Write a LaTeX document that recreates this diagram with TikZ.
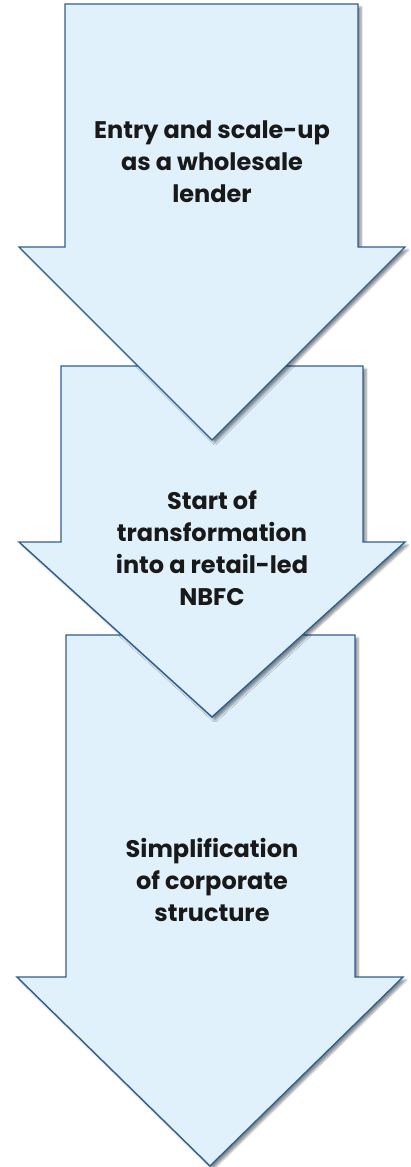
\documentclass[tikz,border=0pt]{standalone}
\usepackage{fontspec}
\setmainfont{Poppins}
\usepackage{tikz}
\usetikzlibrary{positioning,shadows.blur}
\definecolor{stagefill}{HTML}{E0F1FC}
\definecolor{stageline}{HTML}{2F5F8F}

\begin{document}
\begin{tikzpicture}[x=1pt, y=-1pt,
    stage/.style={fill=stagefill, draw=stageline, line width=1.4pt, line join=miter,
        blur shadow={shadow xshift=3pt, shadow yshift=-3pt, shadow blur steps=6, shadow opacity=45}},
    every node/.style={align=center, font=\fontsize{24}{32}\selectfont\bfseries, text=black!90}]

    \useasboundingbox (0,0) rectangle (411,1167);

    % third stage, drawn first so the others lie on top
    \draw[stage] (66,635) -- (355,635) -- (355,977) -- (403,977) -- (210,1166)
        -- (17,977) -- (66,977) -- cycle;
    % second stage
    \draw[stage] (61,366) -- (363,366) -- (363,542) -- (405,542) -- (212,717)
        -- (19,542) -- (61,542) -- cycle;
    % first stage
    \draw[stage] (65,4) -- (358,4) -- (358,247) -- (405,247) -- (212,440)
        -- (19,247) -- (65,247) -- cycle;

    \node (entry) at (212,162) {Entry and scale-up\\as a wholesale\\lender};
    \node (retail) at (212,548) {Start of\\transformation\\into a retail-led\\NBFC};
    \node (simple) at (212,880) {Simplification\\of corporate\\structure};
\end{tikzpicture}
\end{document}
